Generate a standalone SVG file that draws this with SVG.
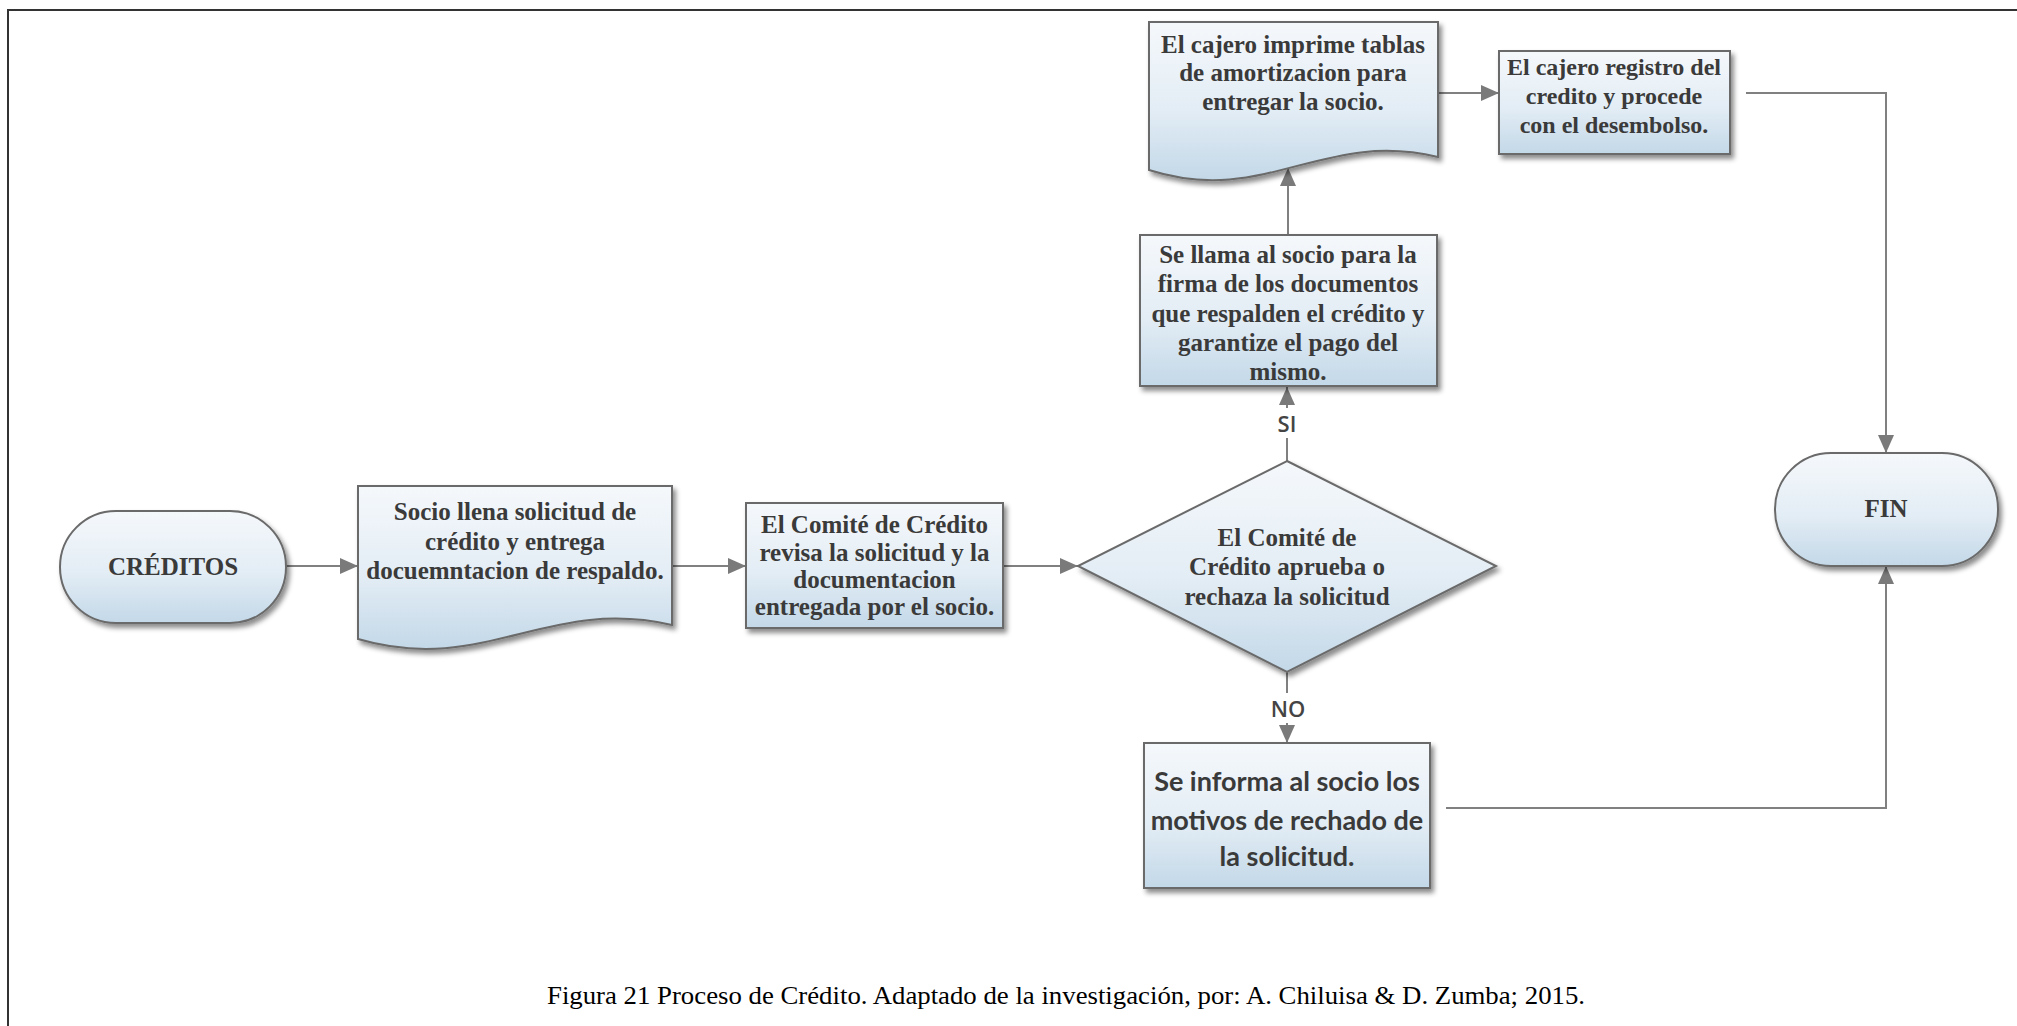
<svg xmlns="http://www.w3.org/2000/svg" width="2017" height="1026" viewBox="0 0 2017 1026">
  <defs>
    <linearGradient id="g" x1="0" y1="0" x2="0" y2="1">
      <stop offset="0" stop-color="#f5f8fb"/>
      <stop offset="0.55" stop-color="#e3edf5"/>
      <stop offset="1" stop-color="#c3d8e8"/>
    </linearGradient>
    <filter id="sh" x="-10%" y="-10%" width="125%" height="130%">
      <feDropShadow dx="3" dy="4" stdDeviation="2.5" flood-color="#000" flood-opacity="0.45"/>
    </filter>
    <marker id="ah" markerUnits="userSpaceOnUse" markerWidth="20" markerHeight="18" refX="18" refY="9" orient="auto">
      <path d="M0,1 L18,9 L0,17 Z" fill="#7a7a7a"/>
    </marker>
    <style>
      .shape { fill: url(#g); stroke: #6a6a6a; stroke-width: 2; filter: url(#sh); }
      .t { font-family: "Liberation Serif", "Times New Roman", serif; font-weight: bold; font-size: 25px; fill: #3a3a3a; text-anchor: middle; }
      .ts { font-family: Lato, "Open Sans", sans-serif; font-weight: bold; font-size: 27px; fill: #3a3a3a; text-anchor: middle; }
      .lbl { font-family: "Open Sans", "Liberation Sans", sans-serif; font-weight: 600; font-size: 22px; fill: #444; text-anchor: middle; }
      .c { fill: none; stroke: #808080; stroke-width: 2; }
      .cap { font-family: "Liberation Serif", "Times New Roman", serif; font-size: 25px; fill: #000; }
    </style>
  </defs>
  <rect x="0" y="0" width="2017" height="1026" fill="#fff"/>
  <path d="M8,1026 V10 H2017" fill="none" stroke="#333" stroke-width="2"/>

  <g id="connectors">
    <path class="c" d="M286,566 H358" marker-end="url(#ah)"/>
    <path class="c" d="M672,566 H746" marker-end="url(#ah)"/>
    <path class="c" d="M1003,566 H1078" marker-end="url(#ah)"/>
    <path class="c" d="M1287,461 V387" marker-end="url(#ah)"/>
    <path class="c" d="M1288,235 V168" marker-end="url(#ah)"/>
    <path class="c" d="M1438,93 H1499" marker-end="url(#ah)"/>
    <path class="c" d="M1746,93 H1886 V453" marker-end="url(#ah)"/>
    <path class="c" d="M1287,672 V743" marker-end="url(#ah)"/>
    <path class="c" d="M1446,808 H1886 V566" marker-end="url(#ah)"/>
    <rect x="1268" y="408" width="38" height="30" fill="#fff"/>
    <text class="lbl" x="1287" y="432">SI</text>
    <rect x="1264" y="693" width="48" height="30" fill="#fff"/>
    <text class="lbl" x="1288" y="717">NO</text>
  </g>

  <g id="creditos">
    <rect class="shape" x="60" y="511" width="226" height="112" rx="56" ry="56"/>
    <text class="t" x="173" y="575">CRÉDITOS</text>
  </g>

  <g id="socio-llena">
    <path class="shape" d="M358,486 H672 V625 C546,596 484,676 358,639 Z"/>
    <text class="t" x="515" y="520">Socio llena solicitud de</text>
    <text class="t" x="515" y="550">crédito y entrega</text>
    <text class="t" x="515" y="579">docuemntacion de respaldo.</text>
  </g>

  <g id="comite-revisa">
    <rect class="shape" x="746" y="503" width="257" height="125"/>
    <text class="t" x="874.5" y="533">El Comité de Crédito</text>
    <text class="t" x="874.5" y="561">revisa la solicitud y la</text>
    <text class="t" x="874.5" y="588">documentacion</text>
    <text class="t" x="874.5" y="615">entregada por el socio.</text>
  </g>

  <g id="comite-aprueba">
    <path class="shape" d="M1287,461 L1496,566 L1287,672 L1078,566 Z"/>
    <text class="t" x="1287" y="546">El Comité de</text>
    <text class="t" x="1287" y="575">Crédito aprueba o</text>
    <text class="t" x="1287" y="605">rechaza la solicitud</text>
  </g>

  <g id="se-llama">
    <rect class="shape" x="1140" y="235" width="297" height="151"/>
    <text class="t" x="1288" y="263">Se llama al socio para la</text>
    <text class="t" x="1288" y="292">firma de los documentos</text>
    <text class="t" x="1288" y="322">que respalden el crédito y</text>
    <text class="t" x="1288" y="351">garantize el pago del</text>
    <text class="t" x="1288" y="380">mismo.</text>
  </g>

  <g id="cajero-imprime">
    <path class="shape" d="M1149,22 H1438 V157 C1322,129 1265,207 1149,170 Z"/>
    <text class="t" x="1293" y="53">El cajero imprime tablas</text>
    <text class="t" x="1293" y="81">de amortizacion para</text>
    <text class="t" x="1293" y="110">entregar la socio.</text>
  </g>

  <g id="cajero-registro">
    <rect class="shape" x="1499" y="51" width="231" height="103"/>
    <text class="t" x="1614" y="75" style="font-size:24px">El cajero registro del</text>
    <text class="t" x="1614" y="104" style="font-size:24px">credito y procede</text>
    <text class="t" x="1614" y="133" style="font-size:24px">con el desembolso.</text>
  </g>

  <g id="se-informa">
    <rect class="shape" x="1144" y="743" width="286" height="145"/>
    <text class="ts" x="1287" y="791">Se informa al socio los</text>
    <text class="ts" x="1287" y="830">motivos de rechado de</text>
    <text class="ts" x="1287" y="866">la solicitud.</text>
  </g>

  <g id="fin">
    <rect class="shape" x="1775" y="453" width="223" height="113" rx="56" ry="56"/>
    <text class="t" x="1886" y="517">FIN</text>
  </g>

  <text class="cap" x="547" y="1004" textLength="1038" lengthAdjust="spacingAndGlyphs">Figura 21 Proceso de Crédito. Adaptado de la investigación, por: A. Chiluisa &amp; D. Zumba; 2015.</text>
</svg>
